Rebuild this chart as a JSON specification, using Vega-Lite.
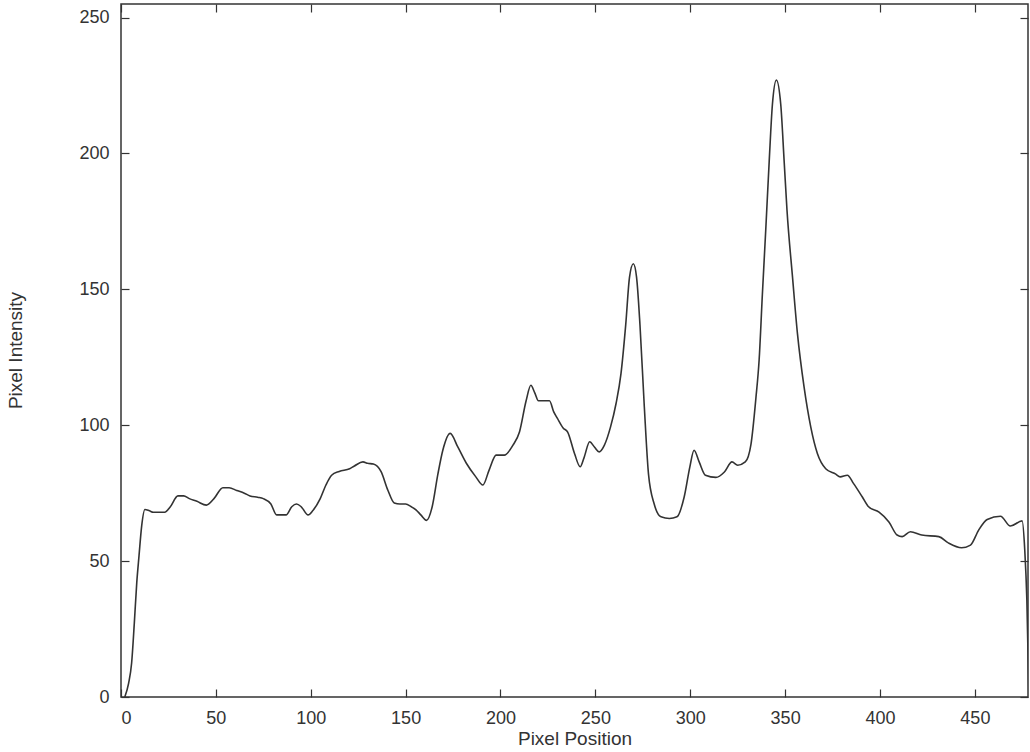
{
  "$schema": "https://vega.github.io/schema/vega-lite/v6.json",
  "autosize": {"type": "none"},
  "padding": {"left": 121, "top": 4, "right": 2, "bottom": 55},
  "width": 907,
  "height": 693,
  "background": "white",
  "config": {
    "view": {"stroke": "#333", "strokeWidth": 1.5},
    "font": "Liberation Sans",
    "axis": {"labelFont": "Liberation Sans", "titleFont": "Liberation Sans", "labelColor": "#333", "titleColor": "#333", "titleFontWeight": "normal", "grid": false, "domain": false, "tickColor": "#333", "tickWidth": 1.2}
  },
  "data": {"values": [
    {"x": 2, "y": 0}, {"x": 4, "y": 5}, {"x": 5.6, "y": 12.5}, {"x": 7, "y": 27}, {"x": 8.3, "y": 42}, {"x": 9.5, "y": 52}, {"x": 10.9, "y": 63}, {"x": 12.6, "y": 69},
    {"x": 15, "y": 68.5}, {"x": 17, "y": 68}, {"x": 20, "y": 68}, {"x": 23, "y": 68}, {"x": 26, "y": 70}, {"x": 30, "y": 74}, {"x": 33, "y": 74}, {"x": 36, "y": 73},
    {"x": 40, "y": 72}, {"x": 45, "y": 70.6}, {"x": 49, "y": 73}, {"x": 53.7, "y": 77}, {"x": 57, "y": 77}, {"x": 61, "y": 76}, {"x": 65, "y": 75}, {"x": 68, "y": 74},
    {"x": 72, "y": 73.5}, {"x": 75, "y": 73}, {"x": 79, "y": 71}, {"x": 82, "y": 67}, {"x": 85, "y": 67}, {"x": 87, "y": 67}, {"x": 90, "y": 70}, {"x": 92.5, "y": 71},
    {"x": 95, "y": 70}, {"x": 98.6, "y": 67}, {"x": 101, "y": 68.5}, {"x": 105, "y": 73}, {"x": 108, "y": 78}, {"x": 111, "y": 81.6}, {"x": 115, "y": 83}, {"x": 120.5, "y": 84},
    {"x": 123, "y": 85}, {"x": 127.5, "y": 86.5}, {"x": 130, "y": 86}, {"x": 133, "y": 85.7}, {"x": 137, "y": 83}, {"x": 140.7, "y": 76}, {"x": 144, "y": 71.4}, {"x": 147, "y": 71},
    {"x": 150, "y": 71}, {"x": 153, "y": 70}, {"x": 155.6, "y": 68.8}, {"x": 158, "y": 67}, {"x": 161, "y": 65}, {"x": 164, "y": 70}, {"x": 167, "y": 82}, {"x": 169.6, "y": 90.8},
    {"x": 173.5, "y": 97}, {"x": 177.5, "y": 92}, {"x": 182, "y": 86}, {"x": 187, "y": 81}, {"x": 190.7, "y": 78}, {"x": 194, "y": 83.5}, {"x": 197.7, "y": 89}, {"x": 202, "y": 89},
    {"x": 206.5, "y": 92.6}, {"x": 210, "y": 97.5}, {"x": 213.5, "y": 109}, {"x": 216, "y": 114.7}, {"x": 218, "y": 112}, {"x": 220, "y": 109}, {"x": 223, "y": 109}, {"x": 225.8, "y": 109},
    {"x": 228, "y": 105}, {"x": 230, "y": 102.5}, {"x": 233, "y": 99}, {"x": 235.4, "y": 97.5}, {"x": 239, "y": 89.6}, {"x": 242, "y": 84.7}, {"x": 244, "y": 88}, {"x": 247, "y": 93.9},
    {"x": 249.5, "y": 92}, {"x": 252, "y": 90.2}, {"x": 254.7, "y": 92.6}, {"x": 258, "y": 99.4}, {"x": 260.9, "y": 108}, {"x": 263.5, "y": 119}, {"x": 266, "y": 137}, {"x": 268, "y": 154.5},
    {"x": 270, "y": 159.4}, {"x": 271.7, "y": 154.5}, {"x": 273.5, "y": 137}, {"x": 275.8, "y": 106.7}, {"x": 278, "y": 82}, {"x": 281, "y": 71}, {"x": 284.6, "y": 66.3}, {"x": 289, "y": 65.7},
    {"x": 293, "y": 66.3}, {"x": 296.8, "y": 73.6}, {"x": 299.8, "y": 84.7}, {"x": 302, "y": 90.8}, {"x": 304.7, "y": 86.5}, {"x": 308, "y": 81.6}, {"x": 313.5, "y": 80.8}, {"x": 318, "y": 82.8},
    {"x": 322, "y": 86.5}, {"x": 325, "y": 85.3}, {"x": 329, "y": 86.5}, {"x": 332, "y": 93}, {"x": 334.6, "y": 110}, {"x": 336.3, "y": 124}, {"x": 338, "y": 148}, {"x": 339.8, "y": 172},
    {"x": 341.6, "y": 197}, {"x": 343.3, "y": 218}, {"x": 345.4, "y": 227}, {"x": 347.7, "y": 218}, {"x": 349.5, "y": 197}, {"x": 351, "y": 179}, {"x": 353.9, "y": 154.5}, {"x": 356.5, "y": 133.7},
    {"x": 360, "y": 114}, {"x": 363.5, "y": 99.4}, {"x": 367, "y": 89.6}, {"x": 371.4, "y": 84}, {"x": 376.7, "y": 82}, {"x": 379, "y": 81}, {"x": 382.8, "y": 81.6}, {"x": 386, "y": 78.6},
    {"x": 390.7, "y": 73.6}, {"x": 394, "y": 70}, {"x": 399.5, "y": 68}, {"x": 404.7, "y": 64.4}, {"x": 409, "y": 59.6}, {"x": 411.7, "y": 59}, {"x": 416, "y": 60.8}, {"x": 422, "y": 59.6},
    {"x": 431, "y": 59}, {"x": 436, "y": 56.7}, {"x": 443, "y": 54.9}, {"x": 447.7, "y": 55.9}, {"x": 452, "y": 61.4}, {"x": 456.5, "y": 65.3}, {"x": 463.5, "y": 66.5}, {"x": 468.7, "y": 62.9},
    {"x": 474.9, "y": 64.8}, {"x": 476.3, "y": 54}, {"x": 477.4, "y": 35.7}, {"x": 478.5, "y": 0}
  ]},
  "layer": [
    {
      "mark": {"type": "line", "stroke": "#333", "strokeWidth": 1.6, "clip": true, "interpolate": "monotone"},
      "encoding": {
        "x": {"field": "x", "type": "quantitative", "scale": {"domain": [0, 478], "nice": false, "zero": false},
          "axis": {"orient": "bottom", "values": [0, 50, 100, 150, 200, 250, 300, 350, 400, 450], "tickSize": -8, "labelPadding": 20, "labelFontSize": 18, "title": "Pixel Position", "titleFontSize": 19, "titleY": 41, "titleBaseline": "middle"}},
        "y": {"field": "y", "type": "quantitative", "scale": {"domain": [0, 255], "nice": false},
          "axis": {"orient": "left", "values": [0, 50, 100, 150, 200, 250], "tickSize": -8, "labelPadding": 20, "labelFontSize": 18, "title": "Pixel Intensity", "titleFontSize": 19, "titleX": -106, "titleY": 346, "titleAlign": "center", "titleBaseline": "middle", "titleAngle": -90}}
      }
    },
    {
      "mark": {"type": "line", "strokeOpacity": 0},
      "encoding": {
        "x": {"field": "x", "type": "quantitative", "scale": {"domain": [0, 478], "nice": false, "zero": false},
          "axis": {"orient": "top", "values": [0, 50, 100, 150, 200, 250, 300, 350, 400, 450], "tickSize": -8, "labels": false, "title": null}},
        "y": {"field": "y", "type": "quantitative", "scale": {"domain": [0, 255], "nice": false},
          "axis": {"orient": "right", "values": [0, 50, 100, 150, 200, 250], "tickSize": -8, "labels": false, "title": null}}
      }
    }
  ],
  "resolve": {"scale": {"x": "independent", "y": "independent"}, "axis": {"x": "independent", "y": "independent"}}
}
